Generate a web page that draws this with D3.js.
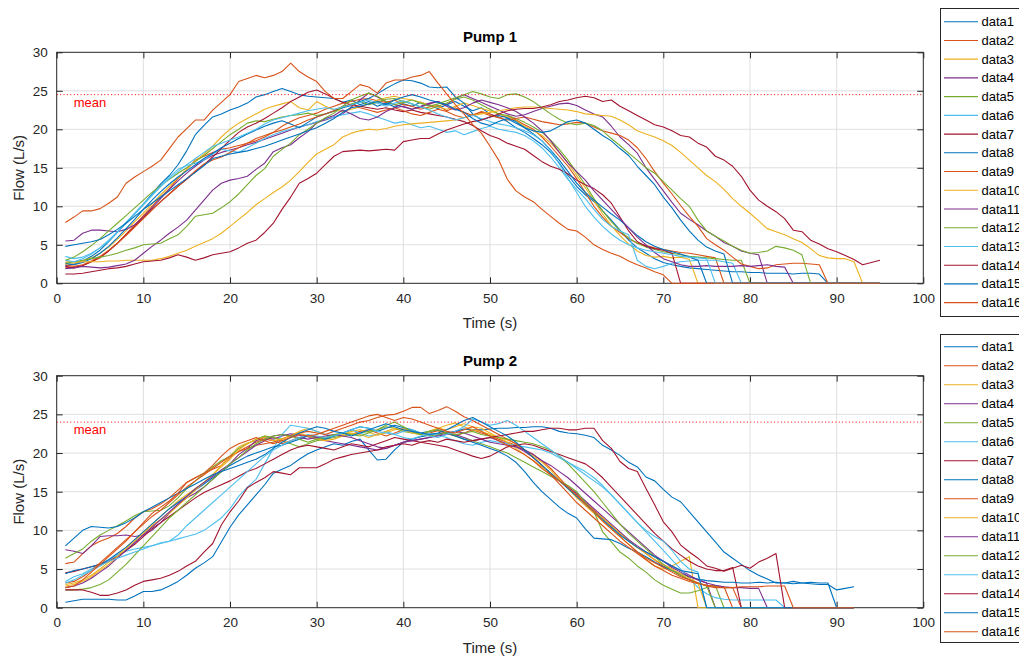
<!DOCTYPE html>
<html><head><meta charset="utf-8">
<script src="https://cdn.jsdelivr.net/npm/d3@7"></script>
<style>
body{margin:0;background:#fff}
svg text{font-family:"Liberation Sans",Arial,Helvetica,sans-serif}
</style></head>
<body><svg id="chart" width="1019" height="656"></svg>
<script>
// ---------- DATA ----------
const seriesNames = ["data1","data2","data3","data4","data5","data6","data7","data8","data9","data10","data11","data12","data13","data14","data15","data16"];
const xTicks = [0,10,20,30,40,50,60,70,80,90,100];
const yTicks = [0,5,10,15,20,25,30];
const titles = ["Pump 1","Pump 2"];
const means = [24.5, 24.0];
const colors = ["#0072BD","#D95319","#EDB120","#7E2F8E","#77AC30","#4DBEEE","#A2142F"];

// Pump 1 (time = 1..95 s)
const p1_d1=[2.3,2.5,2.9,3.5,4.3,5.4,6.6,7.8,9.0,10.3,11.6,12.9,14.0,15.4,17.2,19.3,20.5,21.6,22.0,22.5,22.9,23.4,24.2,24.5,24.9,25.3,24.9,24.5,24.3,24.2,24.1,24.0,23.5,23.8,23.2,23.6,23.0,23.4,22.9,23.3,23.0,23.5,23.1,22.7,23.2,23.6,23.0,22.4,22.8,22.0,21.6,21.0,20.2,19.6,18.8,18.0,17.0,15.6,14.0,12.6,11.5,10.6,9.4,8.2,6.9,5.6,4.6,3.9,3.2,2.7,2.4,2.2,2.0,1.9,1.8,1.7,1.6,1.5,1.5,1.4,1.4,1.3,1.3,1.3,1.2,1.3,1.3,1.2,0,0,0,0,0,0,0];
const p1_d2=[2.0,2.1,2.3,2.8,3.3,4.2,5.2,6.4,7.6,8.8,10.0,11.2,12.3,13.6,14.8,16.0,16.5,17.0,17.4,17.6,17.9,18.2,18.5,19.0,19.6,20.4,21.0,21.5,21.8,22.1,22.6,23.0,23.4,23.6,23.9,24.0,23.7,23.5,23.8,23.2,23.0,22.6,22.9,23.1,22.4,22.8,22.2,21.8,22.3,22.0,21.5,21.8,21.2,20.6,20.0,19.0,17.8,16.5,15.2,13.6,11.8,10.0,8.6,7.4,6.6,5.8,5.2,4.9,4.6,4.4,4.2,4.0,3.9,3.7,3.5,3.3,0,0,0,0,0,0,0,0,0,0,0,0,0,0,0,0,0,0,0];
const p1_d3=[2.7,2.6,2.9,3.3,3.9,4.7,5.7,6.8,8.0,9.1,10.3,11.5,12.6,13.7,14.8,15.9,16.8,17.8,19.0,20.0,20.8,21.4,22.0,22.6,23.0,23.3,23.6,22.8,22.5,23.6,23.0,22.5,22.3,22.6,22.9,23.3,23.8,24.1,24.3,24.0,23.8,23.5,23.2,22.9,22.6,23.0,23.4,23.1,22.7,22.4,22.0,21.6,21.1,20.4,19.8,19.2,18.2,17.0,15.6,14.0,12.4,10.7,9.0,7.5,6.2,5.1,4.2,3.6,3.4,3.5,3.3,3.4,3.1,0,0,0,0,0,0,0,0,0,0,0,0,0,0,0,0,0,0,0,0,0,0];
const p1_d4=[5.5,5.6,6.5,6.9,6.9,6.8,6.7,7.0,7.6,8.6,9.8,11.0,12.2,13.3,14.3,15.2,16.0,16.6,17.0,17.3,17.6,18.0,18.3,18.7,19.1,19.5,19.9,20.3,20.6,20.9,21.2,21.6,22.0,22.9,23.8,24.7,24.2,23.6,23.2,22.9,22.6,23.0,23.4,23.6,23.2,24.0,24.5,24.0,23.5,23.0,22.5,22.0,21.7,21.9,22.3,22.7,23.0,23.3,23.4,23.1,22.5,22.0,21.6,20.4,19.0,18.0,16.9,15.0,13.5,12.0,10.5,9.1,8.3,7.6,6.8,6.1,5.3,4.8,4.2,3.9,3.7,0,0,0,0,0,0,0,0,0,0,0,0,0,0];
const p1_d5=[3.0,3.4,4.1,4.9,5.8,6.8,7.8,8.8,9.8,10.8,11.8,12.7,13.5,14.3,15.0,15.8,16.6,17.5,18.4,19.3,20.0,20.8,21.1,21.0,21.3,21.6,21.8,21.9,22.1,21.8,22.0,22.3,22.8,23.3,23.6,23.2,23.5,23.9,24.0,23.6,23.3,22.9,22.6,23.0,23.4,23.9,24.2,23.8,23.2,22.6,22.0,21.8,21.4,20.9,20.3,19.6,18.6,17.4,16.0,14.4,12.8,11.0,9.4,8.0,6.8,5.9,5.2,4.7,4.4,4.1,3.9,3.7,3.5,3.4,3.3,3.2,3.1,3.0,3.0,0,0,0,0,0,0,0,0,0,0,0,0,0,0,0,0];
const p1_d6=[3.5,3.2,3.4,3.9,4.6,5.5,6.6,7.8,9.0,10.2,11.4,12.6,13.8,14.8,15.3,15.6,16.0,16.8,17.4,17.2,17.0,17.6,18.2,18.8,19.3,19.7,20.0,20.3,20.6,21.0,21.3,21.6,21.9,22.1,22.3,22.0,21.6,21.2,20.8,21.0,20.6,20.2,20.4,20.0,19.6,19.8,19.3,19.7,20.1,20.4,20.0,19.8,19.6,19.2,18.5,17.6,16.4,15.0,13.5,12.2,11.0,9.6,8.3,7.4,6.8,6.3,3.0,2.2,1.9,2.2,2.6,2.8,2.9,3.0,3.0,3.0,2.8,2.6,0,0,0,0,0,0,0,0,0,0,0,0,0,0,0,0,0];
const p1_d7=[2.2,2.0,2.3,2.8,3.4,4.2,5.2,6.3,7.4,8.5,9.6,10.6,11.6,12.6,13.5,14.5,15.4,16.4,17.5,18.6,19.6,20.3,20.8,21.4,22.1,22.8,23.6,24.2,24.8,25.1,24.6,24.0,23.5,23.2,23.0,22.8,22.6,22.8,22.5,22.3,22.5,22.2,22.0,21.8,21.6,21.3,21.0,20.5,19.8,19.2,18.8,18.2,17.8,17.4,16.6,15.8,15.2,14.8,14.2,13.4,12.8,12.3,11.5,10.4,8.6,6.8,5.4,4.8,4.5,4.3,3.9,0,0,0,0,0,0,0,0,0,0,0,0,0,0,0,0,0,0,0,0,0,0,0,0];
const p1_d8=[2.6,2.4,2.7,3.2,3.9,4.8,5.9,7.1,8.3,9.6,10.8,11.9,12.9,13.8,14.6,15.4,16.2,16.9,17.6,18.2,18.8,19.4,19.9,20.4,20.8,21.1,20.7,20.2,20.9,21.6,22.0,22.4,22.8,23.1,23.6,24.0,24.6,25.3,25.9,26.4,26.3,26.0,25.5,25.4,25.5,24.2,23.4,22.0,21.2,21.6,21.8,21.5,21.0,20.2,19.4,18.5,17.3,16.0,14.5,13.0,11.8,10.8,9.9,9.0,8.2,7.2,6.2,5.4,4.8,4.4,4.1,3.8,3.4,3.0,0,0,0,0,0,0,0,0,0,0,0,0,0,0,0,0,0,0,0,0,0];
const p1_d9=[2.4,2.2,2.4,2.9,3.5,4.3,5.2,6.2,7.3,8.4,9.5,10.6,11.6,12.6,13.6,14.6,15.5,16.0,16.4,17.0,17.6,18.2,18.8,19.2,19.6,19.9,20.3,20.7,21.2,21.6,22.0,22.4,23.0,23.2,22.8,22.5,22.2,22.5,22.8,22.4,22.0,21.8,22.2,22.6,22.3,21.8,21.5,21.9,22.2,21.8,21.5,21.2,21.4,21.6,21.3,21.0,20.8,20.6,20.7,20.9,20.8,20.3,19.8,19.5,19.2,18.6,17.6,16.2,14.5,13.0,11.6,10.1,8.7,7.4,5.8,5.0,4.3,3.4,2.5,2.2,1.9,2.0,2.4,2.5,2.6,2.6,2.5,2.4,0,0,0,0,0,0,0];
const p1_d10=[2.9,2.8,2.8,2.8,2.8,2.9,2.9,3.0,3.0,3.0,3.0,3.2,3.5,3.9,4.3,4.8,5.3,5.8,6.5,7.4,8.3,9.2,10.2,11.0,11.8,12.5,13.4,14.5,15.7,16.8,17.4,18.0,19.0,19.5,19.8,20.0,19.9,20.1,20.4,20.6,20.7,20.8,20.9,21.0,21.1,21.2,21.5,21.8,22.0,22.2,22.4,22.6,22.8,22.9,22.9,22.8,22.7,22.6,22.5,22.3,22.0,21.9,21.8,21.7,21.2,20.6,19.8,19.4,19.0,18.5,17.9,17.0,16.0,15.0,14.0,13.2,12.2,11.0,10.0,9.1,8.1,7.1,6.7,6.3,5.8,5.3,4.5,3.6,3.3,3.2,3.2,2.8,0,0,0];
const p1_d11=[1.9,2.0,2.2,2.1,2.0,2.1,2.3,2.5,3.0,3.9,4.8,5.6,6.5,7.3,8.2,9.5,10.8,12.1,13.0,13.4,13.6,13.9,14.8,15.6,17.1,17.6,18.0,18.9,19.7,20.8,21.4,21.8,22.5,22.0,21.4,21.2,21.6,22.3,22.8,23.0,22.6,22.9,23.3,23.6,23.0,22.5,22.8,23.4,23.8,23.5,23.2,22.8,22.3,21.6,20.8,19.8,18.5,17.0,15.6,14.5,13.4,12.0,10.8,9.6,8.4,7.2,6.0,5.0,4.0,3.2,2.8,2.4,2.2,2.2,2.3,2.2,2.2,2.2,2.3,2.2,2.3,2.4,2.2,2.1,0,0,0,0,0,0,0,0,0,0,0];
const p1_d12=[2.6,2.8,3.0,3.2,3.4,3.6,3.9,4.3,4.6,5.0,5.1,5.2,5.8,6.3,7.4,8.7,8.9,9.1,9.8,10.6,11.6,12.8,14.0,14.9,16.5,17.4,18.2,19.3,20.0,20.8,21.5,22.1,23.0,23.8,24.3,24.7,24.3,23.6,23.2,23.5,23.8,23.4,23.0,23.3,23.7,24.1,24.5,24.9,24.6,24.2,24.0,24.5,24.6,24.2,23.6,22.8,22.0,21.3,20.8,20.6,20.8,20.5,19.8,18.8,17.9,16.9,16.0,15.0,14.3,13.2,12.1,11.0,10.0,8.2,6.8,6.1,5.5,4.8,4.3,3.9,4.0,4.2,4.8,4.6,4.3,3.7,0,0,0,0,0,0,0,0,0];
const p1_d13=[3.0,2.8,3.2,3.8,4.6,5.6,6.7,7.9,9.1,10.3,11.5,12.6,13.6,14.5,15.4,16.2,17.0,17.8,18.2,18.6,19.0,19.5,20.0,20.7,21.2,21.5,21.8,22.1,22.4,22.6,22.8,22.6,22.9,23.2,23.5,23.8,23.4,23.0,23.4,23.7,23.3,22.9,22.5,22.0,21.6,21.2,21.5,21.8,21.4,21.0,20.7,20.5,20.2,19.8,19.3,18.5,17.2,15.5,13.6,11.8,10.0,8.6,7.4,6.4,5.6,5.0,4.6,4.3,4.1,3.9,3.7,3.5,3.4,3.3,3.2,0,0,0,0,0,0,0,0,0,0,0,0,0,0,0,0,0,0,0,0];
const p1_d14=[1.2,1.2,1.3,1.5,1.7,1.9,2.0,2.2,2.5,2.8,2.9,3.0,3.3,3.7,3.4,3.0,3.3,3.7,3.9,4.1,4.6,5.2,5.6,6.6,7.8,9.6,11.2,13.0,13.6,14.3,15.4,16.5,17.1,17.2,17.3,17.2,17.3,17.4,17.3,18.4,18.6,18.8,18.8,19.4,19.9,20.3,20.7,21.0,21.2,21.6,22.0,22.4,22.6,22.7,22.7,22.9,23.2,23.6,23.8,24.1,24.3,24.1,23.6,23.8,23.0,22.4,21.8,21.2,20.6,20.3,19.8,19.2,19.0,18.2,17.7,16.5,16.0,15.2,13.9,12.1,10.8,10.0,9.3,8.4,6.9,6.7,5.6,5.1,4.5,4.1,3.6,3.1,2.4,2.7,3.0];
const p1_d15=[4.8,5.0,5.2,5.4,5.7,6.3,7.0,7.8,8.7,9.6,10.4,11.2,12.0,12.8,13.6,14.4,15.3,16.2,16.5,16.8,17.0,17.2,17.5,17.8,18.2,18.6,19.0,19.4,19.8,20.2,20.8,21.4,22.2,22.8,23.0,23.3,23.6,23.2,23.8,24.2,24.5,24.2,23.8,23.5,23.2,22.6,22.2,21.4,20.8,20.5,21.0,21.4,20.8,20.2,19.8,19.6,19.8,20.4,21.0,21.2,20.8,20.0,19.2,18.5,17.5,16.6,15.2,14.0,12.8,11.2,9.8,8.2,6.8,5.6,4.7,4.2,3.8,0,0,0,0,0,0,0,0,0,0,0,0,0,0,0,0,0,0];
const p1_d16=[7.9,8.6,9.4,9.4,9.7,10.4,11.2,13.0,13.8,14.5,15.2,16.0,17.5,19.0,20.1,21.2,21.2,22.5,23.5,24.5,26.2,26.6,27.0,26.7,27.0,27.5,28.6,27.5,26.8,26.2,24.9,24.0,24.0,24.9,25.8,25.5,24.7,26.0,26.4,26.4,26.8,27.0,27.5,26.0,24.6,23.2,22.0,20.6,19.5,17.8,16.0,13.5,12.0,11.2,10.6,9.6,8.7,7.8,7.0,6.8,6.0,5.0,4.4,3.9,3.5,2.9,2.4,2.0,1.5,1.1,0,0,0,0,0,0,0,0,0,0,0,0,0,0,0,0,0,0,0,0,0,0,0,0,0];

// Pump 2 (time = 1..92 s)
const p2_d1=[0.7,0.9,1.1,1.1,1.1,1.1,1.0,1.0,1.5,2.1,2.1,2.3,2.8,3.4,4.2,5.1,5.8,6.6,8.5,10.4,12.0,13.3,14.6,15.9,17.4,17.9,18.4,19.2,19.9,20.4,20.8,21.2,21.0,21.5,21.8,20.4,19.1,19.2,20.4,21.4,21.8,22.1,22.3,22.5,22.6,22.8,23.1,23.0,23.0,23.1,23.2,23.2,23.3,23.3,23.4,23.4,23.2,22.8,22.6,22.5,22.3,22.0,21.0,20.4,19.7,18.8,18.2,16.9,16.4,15.3,14.3,13.7,12.4,11.1,9.8,8.5,7.2,6.4,5.6,4.8,4.2,3.7,3.2,3.2,3.4,3.2,3.1,3.0,3.0,2.3,2.5,2.7];
const p2_d2=[5.7,5.9,7.0,8.0,8.6,9.0,9.6,10.5,11.6,12.4,12.8,13.4,14.2,15.2,16.2,16.8,17.4,17.9,18.4,19.4,20.2,20.8,21.4,21.8,21.6,21.2,21.6,22.0,22.3,22.1,22.0,22.3,22.6,22.4,22.8,23.0,22.6,22.2,22.6,23.0,22.8,22.4,22.6,22.9,22.5,22.2,22.6,23.0,22.6,22.2,21.8,21.4,21.0,20.4,19.8,19.0,18.0,16.8,15.6,14.6,13.6,12.6,11.6,10.6,9.6,8.7,7.8,7.0,6.2,5.4,4.8,4.2,3.6,3.2,2.9,2.7,2.6,2.6,0,0,0,0,0,0,0,0,0,0,0,0,0,0];
const p2_d3=[3.0,3.2,3.6,4.2,5.0,5.9,6.8,7.8,8.8,9.8,10.8,11.8,12.8,13.8,14.6,15.4,16.2,17.2,18.4,19.6,20.8,21.3,21.6,22.2,22.0,21.8,22.3,22.8,23.2,22.8,22.4,22.1,22.4,22.8,23.0,22.7,22.3,22.6,23.0,23.2,22.8,22.5,22.8,23.2,23.6,23.9,23.4,23.0,22.8,22.4,22.0,21.7,21.2,20.4,19.6,18.8,17.8,16.6,15.4,14.2,13.2,12.2,11.2,10.2,9.2,8.2,7.2,6.2,5.4,5.0,5.4,6.0,6.6,0,0,0,0,0,0,0,0,0,0,0,0,0,0,0,0,0,0,0];
const p2_d4=[7.5,7.3,7.0,8.0,9.2,9.3,9.3,9.4,9.2,9.4,10.0,11.0,12.2,13.4,14.2,14.8,15.6,16.6,17.6,18.6,19.8,20.6,21.6,22.0,21.8,22.2,22.5,22.3,22.1,21.8,21.6,21.4,21.2,21.0,20.8,20.6,20.4,20.6,21.0,21.4,21.6,21.8,22.0,22.3,22.6,22.4,22.0,21.6,21.8,22.0,21.6,21.2,20.8,20.2,19.4,18.4,17.4,16.4,15.6,14.8,13.8,12.8,11.8,10.8,9.8,8.8,8.0,7.2,6.6,6.0,5.4,4.8,4.2,3.6,3.2,0,0,0,0,0,0,0,0,0,0,0,0,0,0,0,0,0];
const p2_d5=[6.4,7.0,7.6,8.6,9.4,10.0,10.6,11.2,11.9,12.4,12.5,12.6,13.2,14.2,15.4,16.4,17.4,18.2,19.0,19.6,20.6,21.2,21.8,22.2,22.0,21.6,21.2,20.8,21.2,21.6,21.8,22.0,22.2,22.4,22.6,22.8,23.0,23.4,23.2,22.8,22.6,22.4,22.2,22.4,22.6,22.2,21.8,21.6,21.2,20.8,20.4,20.0,19.4,18.8,18.2,17.6,17.0,16.4,15.8,15.0,13.6,12.4,9.8,8.5,7.2,6.4,5.4,4.6,3.6,2.9,2.4,1.9,1.9,2.2,2.6,2.9,0,0,0,0,0,0,0,0,0,0,0,0,0,0,0,0];
const p2_d6=[3.4,4.0,4.4,5.0,5.6,6.2,6.8,7.3,7.6,7.8,8.0,8.3,8.6,8.9,9.2,9.5,10.0,10.8,11.6,12.8,14.4,15.6,16.6,18.6,20.6,22.4,23.6,23.4,23.2,22.8,22.4,22.2,22.6,23.0,22.6,22.2,22.4,22.8,22.4,22.0,21.8,22.2,22.6,22.3,22.0,21.6,21.2,21.0,21.4,21.6,21.4,21.2,21.0,20.8,20.6,20.4,20.0,19.4,18.8,18.2,17.6,16.8,15.8,14.6,13.4,12.2,11.0,9.8,8.6,7.4,6.2,5.0,3.8,2.6,1.8,1.3,1.1,1.0,1.0,1.0,1.0,1.0,1.0,0,0,0,0,0,0,0,0,0];
const p2_d7=[4.5,4.7,5.0,5.3,5.6,6.0,6.6,7.4,8.2,9.2,10.2,11.0,11.8,12.6,13.4,14.2,14.9,15.4,15.9,16.4,17.0,17.6,18.0,18.6,19.2,19.8,20.4,20.8,21.0,20.8,20.6,20.4,20.8,21.2,21.0,20.8,21.2,21.6,22.0,21.8,21.6,21.4,21.2,21.0,20.8,20.4,20.0,19.6,19.3,19.6,20.2,20.8,21.0,21.2,21.0,20.6,20.2,19.8,19.4,19.0,18.6,17.8,16.8,15.6,14.4,13.2,12.0,10.8,9.6,8.6,7.6,6.8,6.0,5.4,5.0,4.8,4.8,5.2,0,0,0,0,0,0,0,0,0,0,0,0,0,0];
const p2_d8=[4.4,4.8,5.0,5.3,5.6,6.2,7.0,7.8,8.8,9.8,10.8,11.8,12.8,13.6,14.4,15.2,16.0,16.8,17.6,18.4,19.0,19.6,20.0,20.4,20.8,21.0,21.4,21.8,22.2,22.0,21.8,22.2,22.6,23.0,23.4,23.2,22.8,23.2,23.6,23.3,23.0,22.6,22.8,23.0,22.6,22.2,21.8,21.4,21.0,20.6,20.2,19.6,18.8,17.6,16.2,15.0,14.0,13.0,12.2,11.6,10.2,9.0,8.9,8.8,8.3,7.7,7.2,6.6,5.9,5.3,4.8,4.4,4.0,3.7,3.5,3.4,3.3,3.3,3.2,3.2,3.3,3.2,3.3,3.2,3.1,3.2,3.3,3.2,3.2,0,0,0];
const p2_d9=[3.2,3.4,4.0,4.8,5.8,6.8,7.8,8.8,9.8,10.8,11.8,12.6,13.6,14.6,15.6,16.4,17.2,18.0,18.8,19.6,20.2,20.6,21.0,21.2,21.4,21.8,22.2,22.6,22.8,22.6,22.4,22.8,23.2,23.6,24.0,24.2,24.6,24.9,25.0,25.4,25.9,25.9,25.1,25.5,26.0,25.4,24.7,24.2,23.6,23.0,22.4,21.8,21.2,20.4,19.4,18.4,17.2,16.0,14.8,13.6,12.6,11.6,10.6,9.6,8.6,7.8,7.0,6.2,5.4,4.8,4.2,3.8,3.4,3.1,2.9,2.8,2.7,0,0,0,0,0,0,0,0,0,0,0,0,0,0,0];
const p2_d10=[2.8,3.0,3.4,4.0,4.8,5.6,6.6,7.6,8.6,9.6,10.6,11.4,12.2,13.2,14.2,15.2,16.2,17.2,18.2,19.2,20.4,21.2,21.8,22.0,21.6,21.8,22.2,22.6,22.2,21.8,21.6,21.8,22.2,22.6,22.4,22.0,22.4,22.8,23.2,23.0,22.6,22.4,22.8,23.2,23.0,23.4,23.8,23.4,23.2,22.6,22.0,21.4,20.6,19.8,19.0,18.2,17.4,16.4,15.4,14.4,13.4,12.4,11.6,10.6,9.6,8.6,7.8,7.0,6.2,5.6,5.0,4.4,3.8,3.2,0,0,0,0,0,0,0,0,0,0,0,0,0,0,0,0,0,0];
const p2_d11=[2.6,2.8,3.2,3.8,4.6,5.4,6.4,7.4,8.4,9.4,10.4,11.4,12.4,13.4,14.4,15.4,16.2,17.0,17.8,18.6,19.4,20.2,21.0,21.6,22.2,22.4,22.2,22.0,21.8,22.0,22.2,22.4,22.2,22.0,21.6,21.2,20.8,20.6,21.0,21.4,21.6,21.8,22.0,22.2,22.4,22.8,22.6,22.2,21.8,21.4,21.2,21.0,20.8,20.4,19.8,19.0,18.4,17.6,16.8,15.8,14.8,13.8,12.8,11.8,10.8,9.8,8.8,7.8,6.8,6.0,5.2,4.6,4.0,3.6,3.2,2.9,2.7,2.6,2.6,2.5,2.5,0,0,0,0,0,0,0,0,0,0,0];
const p2_d12=[2.3,2.3,2.4,2.6,3.0,3.6,4.6,5.6,6.8,8.0,9.2,10.4,11.6,12.6,13.6,14.6,15.6,16.6,17.6,18.6,19.4,20.4,21.2,21.8,22.2,22.4,22.2,21.8,21.4,21.8,22.0,22.4,22.6,22.4,22.2,22.6,23.0,23.6,24.0,23.4,22.8,22.4,22.8,23.0,22.6,22.4,22.6,22.8,22.4,22.2,22.0,21.8,21.6,21.4,21.2,20.8,20.4,19.6,18.6,17.4,16.2,15.0,13.6,12.2,10.8,9.6,8.6,7.6,6.6,5.6,4.8,4.2,3.6,3.2,2.8,0,0,0,0,0,0,0,0,0,0,0,0,0,0,0,0,0];
const p2_d13=[3.2,3.6,4.2,4.8,5.4,6.0,6.4,6.8,7.2,7.6,8.0,8.4,8.6,9.4,10.6,11.6,12.6,13.6,14.6,15.6,16.6,17.6,18.6,19.6,20.4,21.0,21.6,22.0,22.4,22.2,22.0,22.2,22.6,23.0,23.4,23.2,22.8,22.6,22.4,22.8,23.0,22.6,22.2,22.0,22.4,22.8,23.4,24.4,24.0,23.6,23.8,24.2,23.6,22.8,22.0,21.2,20.4,19.6,18.8,18.0,17.2,16.4,15.6,14.6,13.4,12.2,11.0,10.0,9.2,8.6,7.4,6.0,5.0,4.6,0,0,0,0,0,0,0,0,0,0,0,0,0,0,0,0,0,0];
const p2_d14=[2.3,2.3,2.3,2.0,1.6,1.6,1.9,2.3,2.9,3.4,3.6,3.8,4.2,4.7,5.4,6.0,7.2,8.3,10.7,12.4,13.8,15.5,16.2,16.8,17.6,17.4,17.2,18.1,18.1,18.1,18.6,19.2,19.5,19.8,20.0,20.2,20.4,20.8,21.0,21.2,21.0,21.4,21.6,21.4,21.8,21.6,21.4,21.6,21.8,22.0,22.2,22.4,22.6,22.8,22.8,23.0,23.2,23.2,23.0,23.0,23.2,23.2,21.6,20.6,18.9,18.0,17.6,15.4,13.3,11.1,9.8,8.1,7.2,6.4,5.4,5.1,4.7,5.1,5.5,5.1,5.9,6.4,7.0,0,0,0,0,0,0,0,0,0];
const p2_d15=[8.0,9.0,10.0,10.5,10.4,10.3,10.5,11.0,11.6,12.4,13.0,13.6,14.2,14.8,15.4,16.0,16.6,17.2,17.6,18.0,18.4,18.8,19.2,19.8,20.6,21.4,22.0,22.6,23.0,23.4,23.2,22.8,22.6,22.2,22.6,23.0,23.4,23.8,23.4,23.0,22.8,22.6,22.4,22.6,23.0,23.6,24.2,24.6,24.0,23.4,22.8,22.2,21.4,20.4,19.4,18.4,17.4,16.4,15.4,14.4,13.4,12.4,11.4,10.4,9.4,8.6,7.8,7.2,6.6,6.0,5.4,4.8,4.6,4.4,0,0,0,0,0,0,0,0,0,0,0,0,0,0,0,0,0,0];
const p2_d16=[2.6,2.8,3.6,4.6,5.6,6.6,7.6,8.6,9.8,11.0,12.2,13.0,13.8,14.8,16.2,16.8,17.4,18.4,19.6,20.6,21.2,21.6,22.0,21.6,21.2,21.6,22.0,22.4,22.2,22.4,22.8,23.2,23.6,24.0,24.4,24.8,25.0,24.6,24.2,24.6,24.4,24.0,23.6,23.2,22.8,22.6,23.0,23.4,22.8,22.2,21.6,21.0,20.4,19.8,19.0,18.0,17.2,16.4,15.6,14.6,13.4,12.4,11.2,10.2,9.2,8.2,7.2,6.4,5.8,5.2,4.6,4.0,3.6,3.2,2.8,2.6,2.6,2.6,2.7,2.7,2.7,2.8,2.8,2.8,0,0,0,0,0,0,0,0];

const pump1 = [p1_d1,p1_d2,p1_d3,p1_d4,p1_d5,p1_d6,p1_d7,p1_d8,p1_d9,p1_d10,p1_d11,p1_d12,p1_d13,p1_d14,p1_d15,p1_d16];
const pump2 = [p2_d1,p2_d2,p2_d3,p2_d4,p2_d5,p2_d6,p2_d7,p2_d8,p2_d9,p2_d10,p2_d11,p2_d12,p2_d13,p2_d14,p2_d15,p2_d16];

// ---------- DRAW ----------
const svg = d3.select("#chart");
const axisColor = "#262626";
const panels = [
  {data: pump1, top: 52.3, bottom: 283.3, title: titles[0], mean: means[0], legTop: 8, legRow0: 21.7, legStep: 18.73, legBottom: 316},
  {data: pump2, top: 375.7, bottom: 607.7, title: titles[1], mean: means[1], legTop: 334, legRow0: 346.7, legStep: 19.0, legBottom: 642}
];
const left = 56.7, right = 923.3;
const x = d3.scaleLinear().domain([0,100]).range([left,right]);

panels.forEach((p, pi) => {
  const y = d3.scaleLinear().domain([0,30]).range([p.bottom, p.top]);
  const g = svg.append("g");
  g.append("rect").attr("x",left).attr("y",p.top).attr("width",right-left).attr("height",p.bottom-p.top).attr("fill","#fff");
  // grid
  g.append("g").selectAll("line").data(xTicks.slice(1,-1)).join("line")
    .attr("x1",d=>x(d)).attr("x2",d=>x(d)).attr("y1",p.top).attr("y2",p.bottom)
    .attr("stroke","#dfdfdf").attr("stroke-width",1);
  g.append("g").selectAll("line").data(yTicks.slice(1,-1)).join("line")
    .attr("y1",d=>y(d)).attr("y2",d=>y(d)).attr("x1",left).attr("x2",right)
    .attr("stroke","#dfdfdf").attr("stroke-width",1);
  // axes
  const ax = (sel)=>{sel.select(".domain").remove(); sel.selectAll("line").attr("stroke",axisColor); sel.selectAll("text").attr("fill",axisColor).attr("font-size",13.5).attr("font-family","Liberation Sans, Arial, sans-serif");};
  g.append("g").attr("transform",`translate(0,${p.bottom})`)
    .call(d3.axisBottom(x).tickValues(xTicks).tickSizeInner(-6).tickSizeOuter(0).tickPadding(10)).call(ax);
  g.append("g").attr("transform",`translate(0,${p.top})`)
    .call(d3.axisTop(x).tickValues(xTicks).tickSizeInner(-6).tickSizeOuter(0).tickFormat("")).call(ax);
  g.append("g").attr("transform",`translate(${left},0)`)
    .call(d3.axisLeft(y).tickValues(yTicks).tickSizeInner(-6).tickSizeOuter(0).tickPadding(9)).call(ax);
  g.append("g").attr("transform",`translate(${right},0)`)
    .call(d3.axisRight(y).tickValues(yTicks).tickSizeInner(-6).tickSizeOuter(0).tickFormat("")).call(ax);
  g.append("rect").attr("x",left).attr("y",p.top).attr("width",right-left).attr("height",p.bottom-p.top)
    .attr("fill","none").attr("stroke",axisColor).attr("stroke-width",1);
  // series (drawn over the box, like the reference)
  const line = d3.line().x((d,i)=>x(i+1)).y(d=>y(d));
  const clipId = "clip"+pi;
  svg.append("clipPath").attr("id",clipId).append("rect")
    .attr("x",left).attr("y",p.top-1).attr("width",right-left).attr("height",p.bottom-p.top+2);
  g.append("g").attr("clip-path",`url(#${clipId})`).selectAll("path").data(p.data).join("path")
    .attr("d",line).attr("fill","none")
    .attr("stroke",(d,i)=>colors[i%7]).attr("stroke-width",1.1).attr("stroke-linejoin","round");
  // mean line
  g.append("line").attr("x1",x(0)).attr("x2",x(100)).attr("y1",y(p.mean)).attr("y2",y(p.mean))
    .attr("stroke","#FF0000").attr("stroke-width",1).attr("stroke-dasharray","1,2.4");
  g.append("text").attr("x",x(0)+17).attr("y",y(p.mean)+12).attr("fill","#FF0000")
    .attr("font-size",13).text("mean");
  // labels
  g.append("text").attr("x",(left+right)/2).attr("y",p.top-10).attr("text-anchor","middle")
    .attr("font-weight","bold").attr("font-size",15).attr("fill","#000").text(p.title);
  g.append("text").attr("x",(left+right)/2).attr("y",p.bottom+45).attr("text-anchor","middle")
    .attr("font-size",15).attr("fill",axisColor).text("Time (s)");
  g.append("text").attr("transform",`translate(24,${(p.top+p.bottom)/2}) rotate(-90)`).attr("text-anchor","middle")
    .attr("font-size",15).attr("fill",axisColor).text("Flow (L/s)");
  // legend
  const lg = svg.append("g");
  lg.append("rect").attr("x",940.5).attr("y",p.legTop+0.5).attr("width",100).attr("height",p.legBottom-p.legTop)
    .attr("fill","#fff").attr("stroke",axisColor).attr("stroke-width",1);
  const rows = lg.selectAll("g.row").data(seriesNames).join("g").attr("class","row")
    .attr("transform",(d,i)=>`translate(0,${p.legRow0 + i*p.legStep})`);
  rows.append("line").attr("x1",944).attr("x2",978).attr("y1",0).attr("y2",0)
    .attr("stroke",(d,i)=>colors[i%7]).attr("stroke-width",1.1);
  rows.append("text").attr("x",981.5).attr("y",4.5).attr("font-size",13).attr("fill","#000").text(d=>d);
});
</script>
</body></html>
